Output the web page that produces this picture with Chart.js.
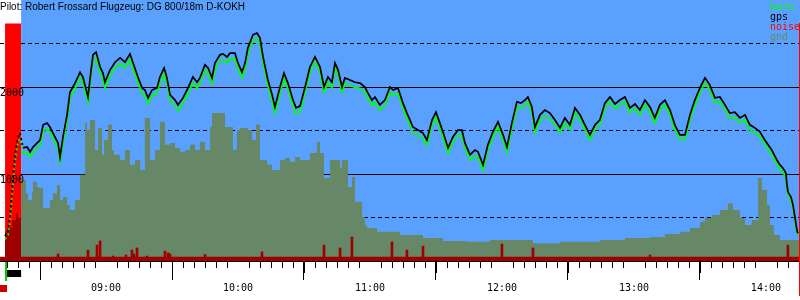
<!DOCTYPE html>
<html>
<head>
<meta charset="utf-8">
<script src="https://cdn.jsdelivr.net/npm/chart.js@4/dist/chart.umd.min.js"></script>
<style>
  html, body { margin: 0; padding: 0; background: #fff; }
</style>
</head>
<body>
<canvas id="flightChart" width="800" height="300"></canvas>
<script>
// Zeiten in Minuten seit Mitternacht, Höhen in m
const flightTimes = [494.1, 495.5, 496.4, 497.3, 498.2, 499.1, 500.0, 500.9, 502.3, 504.1, 505.5, 506.8, 508.6, 510.0, 511.4, 513.2, 514.5, 515.9, 518.2, 519.1,
  520.5, 522.3, 523.6, 525.9, 528.2, 529.5, 531.8, 533.2, 534.1, 535.5, 537.3, 538.6, 539.5, 541.8, 544.1, 546.4, 548.6, 550.9, 552.3, 554.5,
  556.4, 557.7, 559.1, 560.9, 563.2, 564.5, 566.4, 567.7, 569.1, 571.4, 572.7, 575.0, 577.3, 579.5, 581.4, 582.7, 585.0, 586.4, 588.2, 589.5,
  591.8, 593.2, 595.0, 596.4, 598.6, 600.0, 601.8, 603.2, 604.5, 606.8, 608.6, 610.0, 611.4, 613.6, 615.5, 616.8, 619.1, 620.9, 622.7, 625.0,
  626.4, 628.2, 630.5, 632.7, 635.0, 637.3, 639.1, 640.9, 642.7, 644.1, 645.5, 647.3, 648.6, 650.9, 653.2, 655.5, 657.7, 659.1, 660.9, 662.3,
  664.5, 666.8, 669.1, 670.5, 672.7, 675.0, 676.8, 678.2, 679.5, 681.8, 684.1, 685.9, 688.2, 690.0, 691.8, 693.6, 695.5, 697.7, 700.0, 701.8,
  703.2, 705.5, 707.7, 709.1, 711.4, 713.6, 715.9, 718.2, 720.5, 722.3, 724.5, 726.8, 728.6, 730.5, 731.8, 733.6, 735.0, 737.3, 739.5, 741.8,
  744.1, 746.4, 748.6, 750.9, 753.2, 755.5, 757.7, 760.0, 762.3, 764.5, 766.8, 769.1, 771.4, 773.6, 775.9, 778.2, 780.5, 782.7, 785.0, 787.3,
  789.5, 791.8, 794.1, 796.4, 798.6, 800.9, 803.2, 805.5, 807.7, 810.0, 812.3, 814.5, 816.8, 819.1, 821.4, 823.6, 825.9, 828.2, 830.5, 832.7,
  835.0, 837.3, 839.5, 842.7, 845.0, 846.4, 847.7, 849.1, 849.5, 850.0, 851.4, 852.3, 853.2, 854.1, 854.5];

const gpsAlt = [285, 355, 530, 815, 1105, 1300, 1425, 1470, 1300, 1310, 1255, 1310, 1355, 1390, 1565, 1585, 1540, 1470, 1355, 1195,
  1435, 1680, 1940, 2045, 2170, 2115, 1885, 2195, 2370, 2400, 2230, 2160, 2055, 2195, 2285, 2335, 2285, 2380, 2275, 2115,
  1990, 1965, 1875, 1965, 1990, 2115, 2220, 2105, 1910, 1850, 1795, 1875, 1990, 2115, 2055, 2105, 2255, 2220, 2105, 2275,
  2370, 2380, 2345, 2390, 2390, 2275, 2170, 2275, 2450, 2600, 2620, 2565, 2345, 2080, 1910, 1770, 2000, 2160, 2045, 1850,
  1760, 1780, 2000, 2230, 2345, 2230, 2000, 2115, 2055, 2275, 2195, 2000, 2105, 2080, 2055, 2045, 2000, 1930, 1850, 1885,
  1795, 1850, 2000, 1965, 1990, 1815, 1700, 1620, 1540, 1505, 1470, 1390, 1620, 1710, 1585, 1450, 1300, 1425, 1505, 1505,
  1355, 1220, 1275, 1255, 1105, 1335, 1485, 1600, 1450, 1310, 1585, 1830, 1815, 1850, 1885, 1770, 1540, 1680, 1735, 1700,
  1620, 1530, 1645, 1565, 1760, 1680, 1565, 1450, 1565, 1620, 1815, 1885, 1805, 1850, 1885, 1760, 1805, 1735, 1850, 1770,
  1645, 1795, 1850, 1735, 1565, 1450, 1450, 1680, 1850, 1990, 2105, 2025, 1875, 1885, 1795, 1700, 1710, 1645, 1680, 1565,
  1530, 1485, 1390, 1275, 1160, 1105, 1070, 1010, 895, 795, 735, 645, 505, 355, 320];

const baroAlt = [250, 300, 470, 750, 1040, 1235, 1365, 1405, 1240, 1250, 1195, 1250, 1295, 1330, 1500, 1520, 1480, 1410, 1295, 1140,
  1370, 1615, 1875, 1980, 2105, 2050, 1825, 2130, 2300, 2335, 2165, 2095, 1990, 2130, 2220, 2270, 2220, 2315, 2210, 2050,
  1925, 1900, 1810, 1900, 1925, 2050, 2155, 2040, 1845, 1785, 1730, 1810, 1925, 2050, 1990, 2040, 2190, 2155, 2040, 2210,
  2305, 2315, 2280, 2325, 2325, 2210, 2105, 2210, 2385, 2535, 2555, 2500, 2280, 2015, 1845, 1705, 1935, 2095, 1980, 1785,
  1695, 1720, 1940, 2170, 2285, 2170, 1940, 2055, 1995, 2215, 2135, 1940, 2045, 2020, 1995, 1985, 1940, 1870, 1790, 1825,
  1735, 1790, 1940, 1905, 1930, 1755, 1640, 1560, 1480, 1445, 1410, 1330, 1560, 1650, 1525, 1390, 1240, 1365, 1445, 1445,
  1295, 1160, 1215, 1195, 1045, 1275, 1425, 1540, 1390, 1250, 1525, 1770, 1755, 1790, 1825, 1710, 1480, 1620, 1675, 1640,
  1565, 1475, 1590, 1510, 1705, 1625, 1510, 1395, 1510, 1565, 1760, 1830, 1750, 1795, 1830, 1705, 1750, 1680, 1795, 1715,
  1590, 1740, 1795, 1680, 1510, 1395, 1395, 1625, 1795, 1935, 2050, 1970, 1820, 1830, 1740, 1645, 1655, 1590, 1625, 1510,
  1475, 1435, 1340, 1225, 1110, 1055, 1020, 965, 855, 755, 695, 610, 470, 325, 290];

// Geländehöhe (Stufen)
const gndTimes = [494.1, 495.5, 497.3, 499.1, 500.0, 501.4, 503.6, 504.5, 506.4, 506.8, 508.6, 509.5, 511.4, 514.5, 515.9, 517.7, 519.1, 520.5, 522.3, 523.6,
  525.9, 528.2, 530.5, 531.4, 532.7, 535.0, 536.4, 538.2, 539.1, 540.9, 542.7, 543.6, 546.4, 548.6, 550.9, 553.2, 555.5, 557.7, 560.0, 562.3,
  564.5, 566.8, 569.1, 571.4, 573.6, 575.9, 578.2, 580.5, 582.7, 585.0, 587.3, 588.2, 594.1, 597.7, 599.5, 600.9, 604.5, 606.4, 608.2, 610.0,
  613.2, 615.5, 619.1, 621.4, 623.6, 625.9, 628.2, 632.7, 635.9, 637.3, 639.1, 641.8, 646.4, 647.3, 650.0, 651.8, 653.2, 656.4, 657.7, 658.6,
  663.2, 673.6, 684.1, 693.2, 704.1, 714.5, 722.3, 734.1, 746.4, 764.5, 775.9, 787.3, 794.1, 800.9, 805.5, 810.0, 812.3, 815.5, 819.1, 822.7,
  825.0, 828.2, 830.5, 833.6, 836.4, 838.2, 840.5, 841.8, 843.6, 846.4, 850.9, 855.5];

const gndAlt = [300, 335, 380, 470, 550, 495, 930, 780, 700, 795, 910, 850, 840, 610, 700, 780, 875, 700, 735, 645,
  585, 700, 990, 1585, 1505, 1620, 1275, 1530, 1220, 1390, 1565, 1275, 1220, 1160, 1275, 1105, 1160, 1045, 1645, 1160,
  1275, 1600, 1335, 1355, 1300, 1255, 1275, 1335, 1275, 1370, 1275, 1540, 1700, 1540, 1275, 1505, 1530, 1505, 1390, 1565,
  1160, 1105, 1045, 1160, 1185, 1140, 1195, 1160, 1240, 1370, 1240, 955, 1160, 1070, 1160, 850, 965, 680, 505, 415,
  380, 335, 300, 265, 230, 220, 240, 240, 205, 220, 240, 265, 275, 310, 335, 380, 450, 495, 530, 585,
  665, 585, 495, 415, 470, 955, 815, 645, 415, 300, 240, 240];

// Lärmpegel in % der Diagrammhöhe
const noiseTimes = [518.2, 531.8, 535.9, 537.3, 543.2, 549.1, 551.8, 552.7, 554.1, 558.6, 566.8, 568.2, 569.1, 585.0, 610.9,
  639.1, 646.4, 651.8, 670.0, 676.8, 684.1, 720.0, 734.1, 787.3, 850.0];
const noiseLevel = [2.7, 4.2, 6.1, 7.7, 1.9, 2.3, 4.2, 2.7, 5.0, 1.9, 3.8, 3.1, 2.7, 2.5, 3.5,
  6.1, 5.0, 9.2, 7.3, 4.2, 5.7, 6.5, 5.0, 2.3, 6.1];
const noiseFloor = [1.6];

// Motorlauf am Start
const engineTimes = [494.1, 501.4];
const engineNoise = [91, 91];

const hourTicks = [540, 600, 660, 720, 780, 840];
const altLevels = [500, 1000, 1500, 2000, 2500];
const altLabels = [1000, 2000];
const viewRange = [491.8, 855.5];
const cursorTime = [854.9];

const legendItems = [
  { text: 'baro', color: '#00ff00' },
  { text: 'gps', color: '#000000' },
  { text: 'noise', color: '#ff0000' },
  { text: 'gnd', color: '#668866' }
];

const skyColor = '#5aa0ff';
const gndColor = '#668866';
const darkRed = '#a00000';
const mono = '"DejaVu Sans Mono", monospace';

const toXY = (times, values) => times.map((t, i) => ({ x: t, y: values[i] }));
const inEngine = seg => seg.p0.parsed.x < engineTimes[1];

// Hintergrund: blau ab Motor aus
const backgroundPlugin = {
  id: 'flightBackground',
  beforeDraw(chart) {
    const { ctx, chartArea, scales } = chart;
    const xStart = scales.x.getPixelForValue(engineTimes[1]);
    ctx.save();
    ctx.fillStyle = skyColor;
    ctx.fillRect(xStart, chartArea.top, chartArea.right - xStart, chartArea.bottom - chartArea.top);
    ctx.restore();
  }
};

const overlayPlugin = {
  id: 'flightOverlay',
  afterDraw(chart) {
    const { ctx, chartArea, scales: { x, y } } = chart;
    const bottom = chartArea.bottom;
    ctx.save();

    // Zwischenstriche alle 5 bzw. 30 Minuten
    ctx.strokeStyle = '#000';
    ctx.lineWidth = 1;
    for (let t = Math.ceil(x.min / 5) * 5; t <= x.max; t += 5) {
      if (t % 60 === 0) continue;
      const px = Math.round(x.getPixelForValue(t)) + 0.5;
      const len = t % 30 === 0 ? 12 : 7;
      ctx.beginPath();
      ctx.moveTo(px, bottom);
      ctx.lineTo(px, bottom + len);
      ctx.stroke();
    }

    // Motorlauf-Markierung unter der Achse
    const e0 = x.getPixelForValue(engineTimes[0]);
    const e1 = x.getPixelForValue(engineTimes[1]);
    ctx.fillStyle = '#000';
    ctx.fillRect(e0, bottom + 9, e1 - e0, 7);
    ctx.fillStyle = '#00cc00';
    ctx.fillRect(e0, bottom + 1, 2, 19);
    ctx.fillStyle = '#cc0000';
    ctx.fillRect(chartArea.left, bottom + 24, 7, 7);

    // Cursor am Ende
    const cx = Math.round(x.getPixelForValue(cursorTime[0]));
    ctx.fillStyle = '#ff0000';
    ctx.fillRect(cx, 23, 2, 273);

    // Höhenbeschriftung
    ctx.fillStyle = '#000';
    ctx.font = '10px ' + mono;
    ctx.textBaseline = 'alphabetic';
    altLabels.forEach(v => {
      ctx.fillText(String(v), 0, Math.round(y.getPixelForValue(v)) + 9);
    });

    // Titel
    ctx.font = '10px "Liberation Sans", Arial, sans-serif';
    ctx.fillText('Pilot: Robert Frossard Flugzeug: DG 800/18m D-KOKH', 0, 10);

    // Legende
    ctx.font = '10px ' + mono;
    legendItems.forEach((item, i) => {
      ctx.fillStyle = item.color;
      ctx.fillText(item.text, 770, 10 + i * 10);
    });
    ctx.restore();
  }
};

new Chart(document.getElementById('flightChart'), {
  type: 'line',
  data: {
    datasets: [
      {
        label: 'gps',
        data: toXY(flightTimes, gpsAlt),
        borderColor: '#000000',
        borderWidth: 1.7,
        pointRadius: 0,
        order: 0,
        segment: { borderDash: seg => inEngine(seg) ? [2, 3] : undefined }
      },
      {
        label: 'baro',
        data: toXY(flightTimes, baroAlt),
        borderColor: '#00ff00',
        borderWidth: 1.8,
        pointRadius: 0,
        order: 1,
        segment: { borderDash: seg => inEngine(seg) ? [2, 3] : undefined }
      },
      {
        type: 'bar',
        label: 'noise',
        data: toXY(noiseTimes, noiseLevel),
        yAxisID: 'yNoise',
        backgroundColor: darkRed,
        barThickness: 2,
        order: 2
      },
      {
        label: 'noise floor',
        data: toXY(viewRange, [noiseFloor[0], noiseFloor[0]]),
        yAxisID: 'yNoise',
        borderWidth: 0,
        pointRadius: 0,
        backgroundColor: darkRed,
        fill: 'origin',
        order: 2
      },
      {
        label: 'gnd',
        data: toXY(gndTimes, gndAlt),
        stepped: 'after',
        borderWidth: 0,
        pointRadius: 0,
        backgroundColor: gndColor,
        fill: 'origin',
        order: 3,
        segment: { backgroundColor: seg => inEngine(seg) ? darkRed : undefined }
      },
      {
        label: 'engine',
        data: toXY(engineTimes, engineNoise),
        yAxisID: 'yNoise',
        borderWidth: 0,
        pointRadius: 0,
        backgroundColor: '#ff0000',
        fill: 'origin',
        order: 4
      }
    ]
  },
  options: {
    responsive: false,
    animation: false,
    devicePixelRatio: 1,
    layout: { padding: { left: 0, right: 0, top: 0, bottom: 4 } },
    plugins: {
      legend: { display: false },
      tooltip: { enabled: false }
    },
    scales: {
      x: {
        type: 'linear',
        min: viewRange[0],
        max: viewRange[1],
        offset: false,
        z: 1,
        afterBuildTicks: scale => { scale.ticks = hourTicks.map(v => ({ value: v })); },
        ticks: {
          autoSkip: false,
          maxRotation: 0,
          padding: 2,
          color: '#000',
          font: { family: mono, size: 10 },
          callback: v => String(Math.floor(v / 60)).padStart(2, '0') + ':' + String(v % 60).padStart(2, '0')
        },
        grid: { drawOnChartArea: false, tickLength: 19, tickColor: '#000' },
        border: { display: true, color: '#000', width: 1 }
      },
      y: {
        position: 'left',
        min: 0,
        max: 3000,
        z: 1,
        afterBuildTicks: scale => { scale.ticks = altLevels.map(v => ({ value: v })); },
        ticks: { display: false },
        grid: { drawTicks: false, color: '#000', lineWidth: 1 },
        border: {
          display: false,
          dash: c => (c.tick && c.tick.value % 1000 !== 0) ? [4, 3] : []
        }
      },
      yNoise: {
        display: false,
        min: 0,
        max: 100
      }
    }
  },
  plugins: [backgroundPlugin, overlayPlugin]
});
</script>
</body>
</html>
